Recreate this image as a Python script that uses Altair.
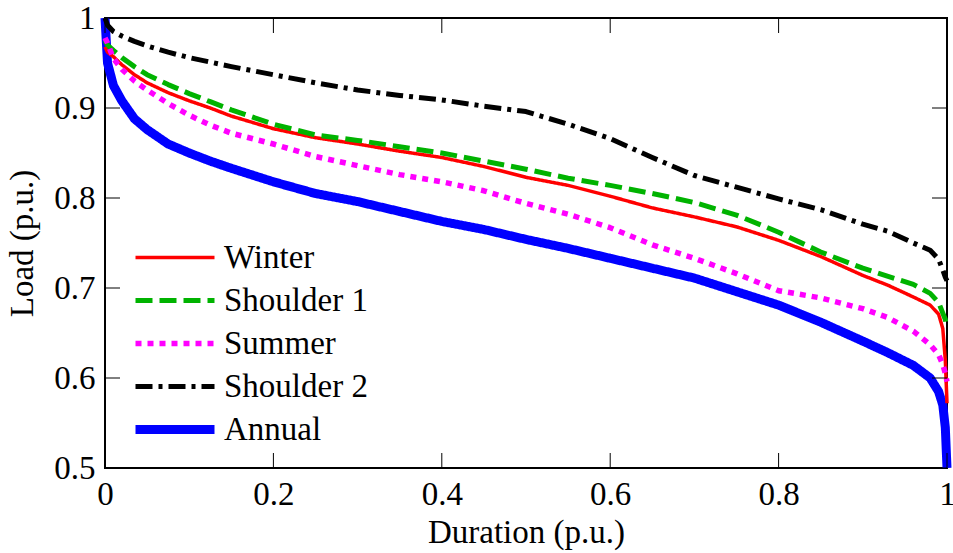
import altair as alt
import pandas as pd

# Duration grid (p.u.)
duration = [0, 0.003, 0.01, 0.02, 0.035, 0.05, 0.075, 0.1, 0.125, 0.15, 0.2, 0.25, 0.3,
            0.35, 0.4, 0.45, 0.5, 0.55, 0.6, 0.65, 0.7, 0.75, 0.8, 0.85, 0.9, 0.93,
            0.96, 0.98, 0.99, 0.995, 0.998, 1.0]

annual = [1.0, 0.95, 0.925, 0.908, 0.888, 0.876, 0.86, 0.85, 0.841, 0.833, 0.818, 0.805,
          0.796, 0.785, 0.774, 0.765, 0.754, 0.744, 0.733, 0.722, 0.711, 0.696, 0.681,
          0.662, 0.641, 0.628, 0.614, 0.600, 0.585, 0.57, 0.545, 0.5]
winter = [0.968, 0.962, 0.957, 0.948, 0.937, 0.928, 0.917, 0.908, 0.9, 0.891, 0.877, 0.867,
          0.86, 0.852, 0.845, 0.835, 0.823, 0.814, 0.802, 0.789, 0.779, 0.768, 0.753,
          0.735, 0.714, 0.703, 0.69, 0.681, 0.671, 0.655, 0.62, 0.572]
shoulder1 = [0.975, 0.97, 0.964, 0.956, 0.946, 0.937, 0.926, 0.916, 0.907, 0.898, 0.882,
             0.87, 0.864, 0.857, 0.85, 0.841, 0.832, 0.822, 0.814, 0.805, 0.795, 0.781,
             0.762, 0.74, 0.722, 0.713, 0.704, 0.694, 0.684, 0.672, 0.665, 0.655]
summer = [0.978, 0.972, 0.955, 0.943, 0.93, 0.92, 0.905, 0.892, 0.881, 0.872, 0.86, 0.846,
          0.836, 0.826, 0.818, 0.808, 0.794, 0.782, 0.767, 0.748, 0.733, 0.716, 0.697,
          0.689, 0.677, 0.667, 0.652, 0.637, 0.626, 0.615, 0.605, 0.596]
shoulder2 = [1.0, 0.992, 0.985, 0.98, 0.974, 0.969, 0.962, 0.956, 0.951, 0.946, 0.937, 0.928,
             0.92, 0.914, 0.909, 0.902, 0.896, 0.882, 0.866, 0.845, 0.825, 0.812, 0.799,
             0.787, 0.771, 0.763, 0.75, 0.742, 0.732, 0.72, 0.712, 0.708]

series_names = ["Winter", "Shoulder 1", "Summer", "Shoulder 2", "Annual"]
series_colors = ["#ff0000", "#00b300", "#ff00ff", "#000000", "#0000ff"]
series_dash = [[1, 0], [17, 7], [6, 6], [17, 6, 4, 6], [1, 0]]
series_width = [3.5, 5, 5.5, 5, 9]

x_ticks = [0, 0.2, 0.4, 0.6, 0.8, 1.0]
y_ticks = [0.5, 0.6, 0.7, 0.8, 0.9, 1.0]

rows = []
draw_order = [("Annual", annual), ("Winter", winter), ("Shoulder 1", shoulder1),
              ("Summer", summer), ("Shoulder 2", shoulder2)]
for k, (name, vals) in enumerate(draw_order):
    for i, (d, v) in enumerate(zip(duration, vals)):
        rows.append({"series": name, "duration": d, "load": v, "ord": k * 1000 + i})
df = pd.DataFrame(rows)
xt_df = pd.DataFrame({"duration": x_ticks})
yt_df = pd.DataFrame({"load": y_ticks})

FONT = "Liberation Serif"
FS = 33
W, H = 842, 450
TICK = 15

xscale = alt.Scale(domain=[0, 1], nice=False, zero=False)
yscale = alt.Scale(domain=[0.5, 1], nice=False, zero=False)
xaxis = alt.Axis(orient="bottom", values=x_ticks, format="~g", ticks=False, tickSize=0,
                 domain=False, grid=False, labelPadding=10, labelFlush=False,
                 title="Duration (p.u.)", titlePadding=5)
yaxis = alt.Axis(orient="left", values=y_ticks, format="~g", ticks=False, tickSize=0,
                 domain=False, grid=False, labelPadding=10, labelFlush=False,
                 title="Load (p.u.)", titlePadding=14)

lines = alt.Chart(df).mark_line(strokeCap="butt", strokeJoin="round").encode(
    x=alt.X("duration:Q", scale=xscale, axis=xaxis),
    y=alt.Y("load:Q", scale=yscale, axis=yaxis),
    color=alt.Color("series:N", scale=alt.Scale(domain=series_names, range=series_colors),
                    legend=alt.Legend(title=None)),
    strokeDash=alt.StrokeDash("series:N", scale=alt.Scale(domain=series_names, range=series_dash),
                              legend=alt.Legend(title=None)),
    strokeWidth=alt.StrokeWidth("series:N",
                                scale=alt.Scale(type="ordinal", domain=series_names,
                                                range=series_width),
                                legend=alt.Legend(title=None)),
    detail="series:N",
    order="ord:Q",
)

# inward tick marks on all four sides, positioned by the shared scales
tick_bottom = alt.Chart(xt_df).mark_rule(color="black", strokeWidth=1).encode(
    x=alt.X("duration:Q", scale=xscale, axis=xaxis), y=alt.value(H), y2=alt.value(H - TICK))
tick_top = alt.Chart(xt_df).mark_rule(color="black", strokeWidth=1).encode(
    x=alt.X("duration:Q", scale=xscale, axis=xaxis), y=alt.value(0), y2=alt.value(TICK))
tick_left = alt.Chart(yt_df).mark_rule(color="black", strokeWidth=1).encode(
    y=alt.Y("load:Q", scale=yscale, axis=yaxis), x=alt.value(0), x2=alt.value(TICK))
tick_right = alt.Chart(yt_df).mark_rule(color="black", strokeWidth=1).encode(
    y=alt.Y("load:Q", scale=yscale, axis=yaxis), x=alt.value(W), x2=alt.value(W - TICK))

chart = alt.layer(lines, tick_bottom, tick_top, tick_left, tick_right).properties(
    width=W, height=H,
    background="white",
    autosize=alt.AutoSizeParams(type="none"),
    padding={"left": 105, "top": 18, "right": 6, "bottom": 85},
).configure_view(stroke="black", strokeWidth=2).configure_axis(
    labelFont=FONT, labelFontSize=FS, labelColor="black",
    titleFont=FONT, titleFontSize=FS, titleFontWeight="normal", titleColor="black",
).configure_legend(
    orient="none", legendX=26, legendY=218,
    symbolType="stroke", symbolSize=6241, clipHeight=43,
    labelFont=FONT, labelFontSize=FS, labelColor="black",
    labelOffset=5, rowPadding=0, padding=0,
)

chart.save("out.html", embed_options={"renderer": "svg", "actions": False})
